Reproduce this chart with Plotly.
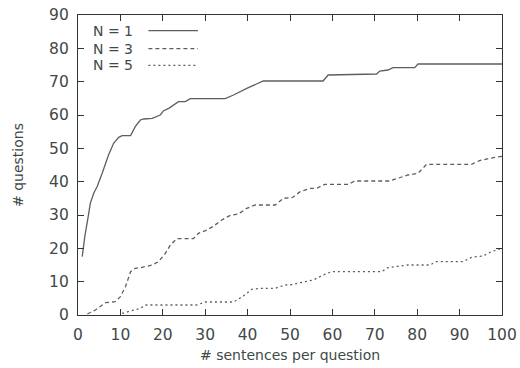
import plotly.graph_objects as go

# N = 1
x_n1 = [1.0, 1.6, 2.4, 2.9, 3.7, 4.5, 5.7, 7.2, 8.4, 9.6, 10.4, 12.4, 13.5, 14.7, 15.5, 17.5,
        19.4, 20.2, 21.4, 22.9, 23.7, 25.3, 26.5, 34.7, 36.7, 39.8, 42.2, 43.7, 57.8, 59.0,
        70.4, 71.2, 73.1, 74.3, 79.4, 80.2, 100.0]
y_n1 = [17.5, 23.5, 29.5, 33.5, 36.5, 38.5, 42.5, 48.0, 51.5, 53.3, 53.8, 53.8, 56.5, 58.5, 58.8, 59.0,
        60.0, 61.3, 62.0, 63.2, 64.0, 64.0, 64.9, 64.9, 66.0, 68.0, 69.5, 70.2, 70.2, 72.0,
        72.3, 73.2, 73.5, 74.2, 74.2, 75.3, 75.3]

# N = 3
x_n3 = [2.2, 4.1, 6.5, 8.8, 10.0, 11.2, 12.4, 13.5, 15.1, 17.5, 19.0, 20.6, 21.8, 23.3, 27.2,
        28.4, 30.4, 32.0, 33.9, 35.9, 37.8, 39.8, 41.8, 46.5, 48.4, 50.5, 52.4, 54.7, 56.3,
        58.2, 63.7, 65.3, 73.5, 75.9, 77.8, 80.2, 82.2, 92.8, 94.7, 97.1, 100.0]
y_n3 = [0.3, 1.5, 3.7, 4.0, 5.5, 8.5, 13.0, 14.0, 14.3, 15.0, 16.0, 18.5, 21.0, 22.9, 22.9,
        24.5, 25.5, 26.7, 28.5, 29.9, 30.3, 32.0, 33.0, 33.0, 35.0, 35.2, 37.0, 38.0, 38.0,
        39.2, 39.2, 40.2, 40.2, 41.2, 42.0, 42.5, 45.2, 45.2, 46.3, 47.0, 47.6]

# N = 5
x_n5 = [10.4, 12.4, 14.7, 15.9, 28.0, 30.0, 36.7, 39.0, 41.0, 42.9, 46.5, 48.8, 50.5, 52.4,
        55.5, 57.8, 59.8, 71.6, 73.1, 77.8, 83.0, 84.5, 90.8, 92.8, 95.5, 97.5, 100.0]
y_n5 = [0.5, 1.3, 2.0, 3.0, 3.0, 3.9, 3.9, 5.7, 7.7, 8.0, 8.0, 9.0, 9.1, 9.7,
        10.5, 12.0, 13.0, 13.0, 14.2, 15.0, 15.0, 16.0, 16.0, 17.3, 17.7, 19.0, 20.0]

series_names = ["N = 1", "N = 3", "N = 5"]
x_ticks = [0, 10, 20, 30, 40, 50, 60, 70, 80, 90, 100]
y_ticks = [0, 10, 20, 30, 40, 50, 60, 70, 80, 90]
x_title = "# sentences per question"
y_title = "# questions"

TEXT = "#3f4947"
LINE = "#59615e"
AXIS = "#2f3634"
FONT = "DejaVu Sans, Liberation Sans, sans-serif"
dashes = ["solid", "4px,3px", "2px,3px"]

fig = go.Figure()
for xs, ys, name, d in zip([x_n1, x_n3, x_n5], [y_n1, y_n3, y_n5], series_names, dashes):
    fig.add_trace(go.Scatter(x=xs, y=ys, mode="lines", name=name,
                             line=dict(color=LINE, width=1.3, dash=d), showlegend=False))

# gnuplot-style legend: label text then line sample
leg_y = [0.948, 0.888, 0.832]
for name, d, yy in zip(series_names, dashes, leg_y):
    fig.add_annotation(x=0.135, y=yy, xref="paper", yref="paper", text=name, showarrow=False,
                       xanchor="right", yanchor="middle",
                       font=dict(family=FONT, size=14, color=TEXT))
    fig.add_shape(type="line", xref="paper", yref="paper", x0=0.166, x1=0.283, y0=yy, y1=yy,
                  line=dict(color=LINE, width=1.3, dash=d))

# axis titles
fig.add_annotation(x=0.5, y=0, xref="paper", yref="paper", text=x_title, showarrow=False,
                   xanchor="center", yanchor="middle", yshift=-40,
                   font=dict(family=FONT, size=14, color=TEXT))
fig.add_annotation(x=0, y=0.5, xref="paper", yref="paper", text=y_title, showarrow=False,
                   xanchor="center", yanchor="middle", xshift=-60, textangle=-90,
                   font=dict(family=FONT, size=14, color=TEXT))

axis_common = dict(showgrid=False, zeroline=False, showline=True, linecolor=AXIS, linewidth=1.2,
                   mirror="ticks", ticks="inside", ticklen=6, tickcolor=AXIS, tickwidth=1.2,
                   automargin=False, ticklabelstandoff=5,
                   tickfont=dict(family=FONT, size=15.5, color=TEXT))

fig.update_xaxes(range=[0, 100], tickvals=x_ticks, ticktext=[str(v) for v in x_ticks], **axis_common)
fig.update_yaxes(range=[0, 90], tickvals=y_ticks, ticktext=[str(v) for v in y_ticks], **axis_common)

fig.update_layout(width=520, height=368, margin=dict(l=77.5, r=17.5, t=15, b=53, autoexpand=False),
                  plot_bgcolor="white", paper_bgcolor="white", showlegend=False)

# remove the default 8px page margin so the figure fills the window exactly
fig.write_html("out.html", config={"displayModeBar": False},
               post_script="document.body.style.margin='0';document.body.style.overflow='hidden';")
